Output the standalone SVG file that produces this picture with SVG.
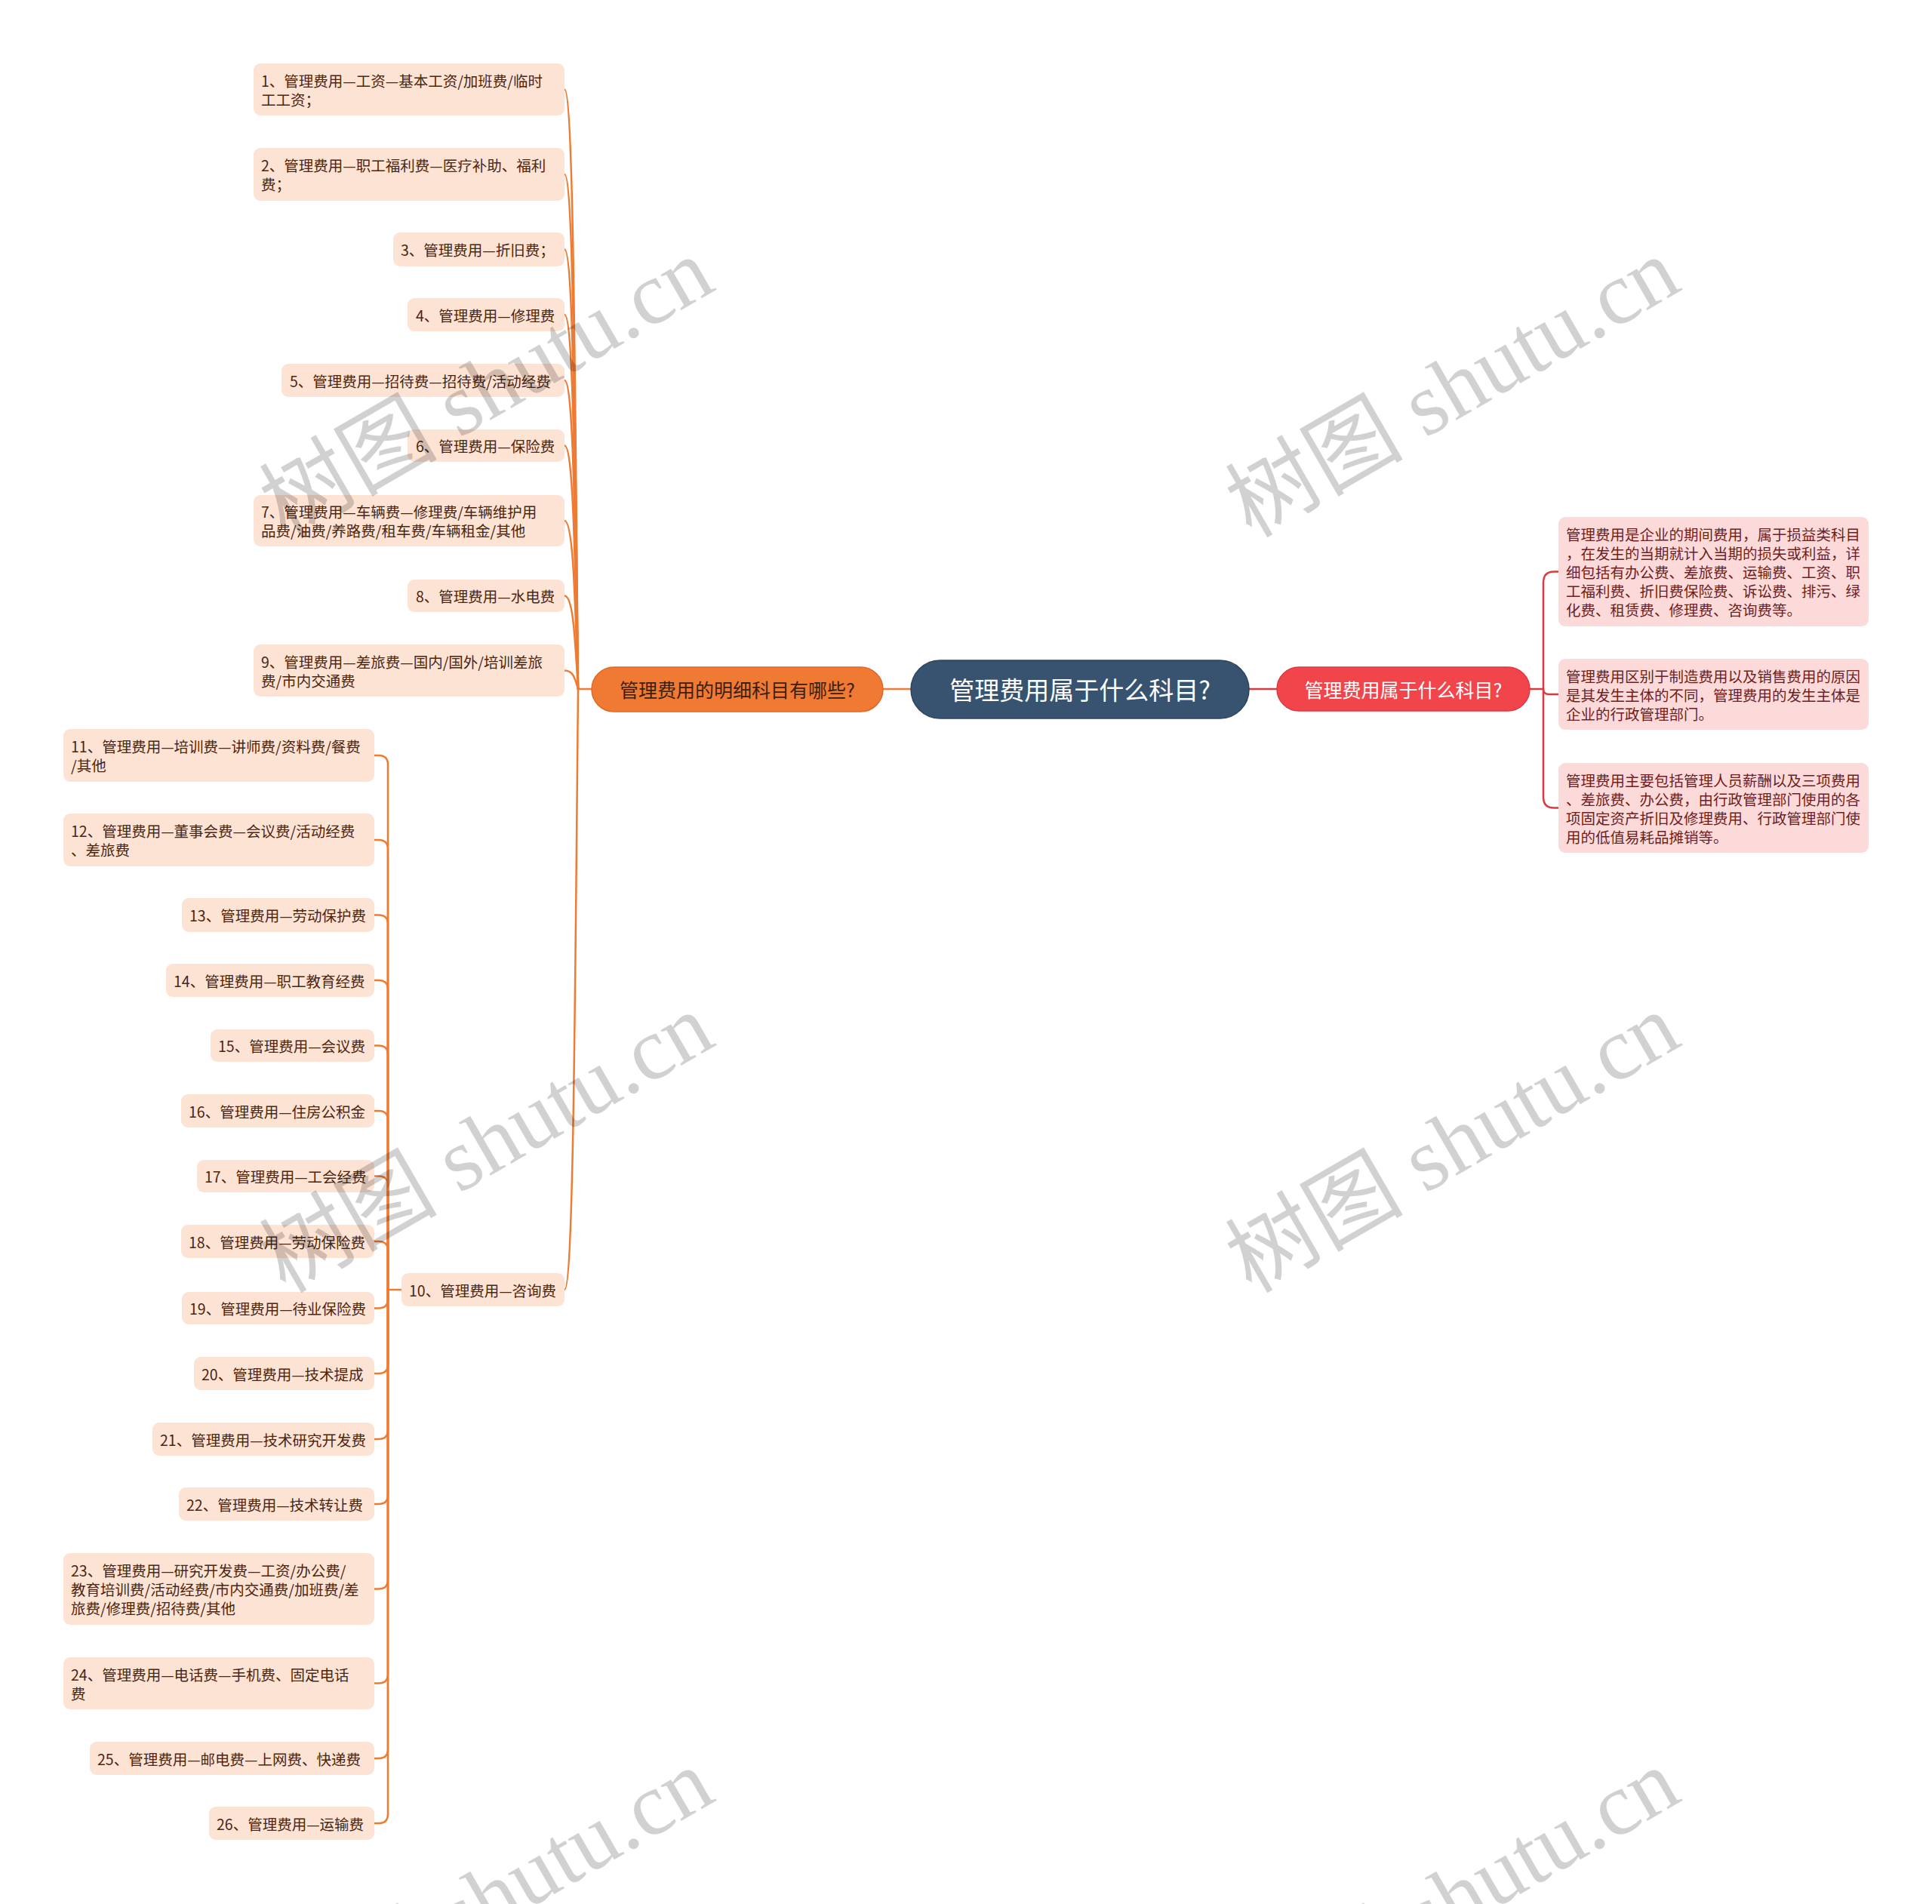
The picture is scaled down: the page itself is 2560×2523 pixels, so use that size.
<svg xmlns="http://www.w3.org/2000/svg" width="2560" height="2523" viewBox="0 0 2560 2523">
<defs>
<style>
text{font-family:"Noto Sans CJK SC","Noto Sans",sans-serif;dominant-baseline:central}
.lf rect{fill:#fde3d4}
.lf text{font-size:19.5px;fill:#4b2610}
.rf rect{fill:#fcdada}
.rf text{font-size:19.5px;fill:#6e1e1e}
.ol{fill:none;stroke:#ee7b34;stroke-width:2.5;stroke-linecap:round}
.rl{fill:none;stroke:#d93a40;stroke-width:2.5;stroke-linecap:round}
.wm{font-family:"Liberation Serif","Noto Sans CJK SC",serif;font-size:118px;fill:#000;fill-opacity:0.18;text-anchor:middle}
</style>
</defs>
<rect width="2560" height="2523" fill="#ffffff"/>
<g id="connectors">
<path class="ol" d="M1170 913H1207"/>
<path class="rl" d="M1655 913H1692"/>
<path class="ol" d="M784 913H766"/>
<path class="ol" d="M766 913C762 516 760 118.5 748 118.5"/>
<path class="ol" d="M766 913C762 572 760 231 748 231"/>
<path class="ol" d="M766 913C762 622 760 330.5 748 330.5"/>
<path class="ol" d="M766 913C762 665 760 417 748 417"/>
<path class="ol" d="M766 913C762 708 760 504 748 504"/>
<path class="ol" d="M766 913C762 752 760 590.5 748 590.5"/>
<path class="ol" d="M766 913C762 801 760 690 748 690"/>
<path class="ol" d="M766 913C762 851 760 789.5 748 789.5"/>
<path class="ol" d="M766 913C762 900 760 888.5 748 888.5"/>
<path class="ol" d="M766 913C762 1311 760 1709 748 1709"/>
<path class="ol" d="M532 1709H514"/>
<path class="ol" d="M514 1709V1013Q514 1001 502 1001H496"/>
<path class="ol" d="M514 1709V1125Q514 1113 502 1113H496"/>
<path class="ol" d="M514 1709V1224.5Q514 1212.5 502 1212.5H496"/>
<path class="ol" d="M514 1709V1311Q514 1299 502 1299H496"/>
<path class="ol" d="M514 1709V1397.5Q514 1385.5 502 1385.5H496"/>
<path class="ol" d="M514 1709V1484Q514 1472 502 1472H496"/>
<path class="ol" d="M514 1709V1570.5Q514 1558.5 502 1558.5H496"/>
<path class="ol" d="M514 1709V1657Q514 1645 502 1645H496"/>
<path class="ol" d="M514 1709V1721.5Q514 1733.5 502 1733.5H496"/>
<path class="ol" d="M514 1709V1808Q514 1820 502 1820H496"/>
<path class="ol" d="M514 1709V1895Q514 1907 502 1907H496"/>
<path class="ol" d="M514 1709V1981Q514 1993 502 1993H496"/>
<path class="ol" d="M514 1709V2093.5Q514 2105.5 502 2105.5H496"/>
<path class="ol" d="M514 1709V2218.5Q514 2230.5 502 2230.5H496"/>
<path class="ol" d="M514 1709V2318Q514 2330 502 2330H496"/>
<path class="ol" d="M514 1709V2404Q514 2416 502 2416H496"/>
<path class="rl" d="M2027 913H2045"/>
<path class="rl" d="M2045 913V772Q2045 757.5 2059 757.5H2065"/>
<path class="rl" d="M2045 913V914Q2045 920 2053 920H2065"/>
<path class="rl" d="M2045 913V1056Q2045 1070.5 2059 1070.5H2065"/>
</g>
<g id="root">
<rect x="1207" y="875" width="448" height="77" rx="38.5" fill="#37536f" stroke="#2c445c" stroke-width="1.5"/>
<text x="1431" y="913" font-size="33" fill="#ffffff" text-anchor="middle">管理费用属于什么科目?</text>
</g>
<g id="branch-left">
<rect x="784" y="884" width="386" height="59" rx="29.5" fill="#f07a33" stroke="#dd6a26" stroke-width="1.5"/>
<text x="977" y="913" font-size="25" fill="#3b1f0e" text-anchor="middle">管理费用的明细科目有哪些?</text>
</g>
<g id="branch-right">
<rect x="1692" y="884" width="335" height="58" rx="29" fill="#f2454b" stroke="#d93a40" stroke-width="1.5"/>
<text x="1859.5" y="913" font-size="25" fill="#ffffff" text-anchor="middle">管理费用属于什么科目?</text>
</g>
<g id="n1" class="lf"><rect x="336" y="84" width="412" height="69" rx="9"/><text x="346" y="106">1、管理费用—工资—基本工资/加班费/临时</text><text x="346" y="131">工工资；</text></g>
<g id="n2" class="lf"><rect x="336" y="196" width="412" height="70" rx="9"/><text x="346" y="218.5">2、管理费用—职工福利费—医疗补助、福利</text><text x="346" y="243.5">费；</text></g>
<g id="n3" class="lf"><rect x="521" y="308" width="227" height="45" rx="9"/><text x="531" y="330.5">3、管理费用—折旧费；</text></g>
<g id="n4" class="lf"><rect x="540" y="395" width="208" height="44" rx="9"/><text x="551" y="417">4、管理费用—修理费</text></g>
<g id="n5" class="lf"><rect x="373" y="482" width="375" height="44" rx="9"/><text x="384" y="504">5、管理费用—招待费—招待费/活动经费</text></g>
<g id="n6" class="lf"><rect x="540" y="569" width="208" height="43" rx="9"/><text x="551" y="590.5">6、管理费用—保险费</text></g>
<g id="n7" class="lf"><rect x="336" y="656" width="412" height="68" rx="9"/><text x="346" y="677.5">7、管理费用—车辆费—修理费/车辆维护用</text><text x="346" y="702.5">品费/油费/养路费/租车费/车辆租金/其他</text></g>
<g id="n8" class="lf"><rect x="540" y="768" width="208" height="43" rx="9"/><text x="551" y="789.5">8、管理费用—水电费</text></g>
<g id="n9" class="lf"><rect x="336" y="854" width="412" height="69" rx="9"/><text x="346" y="876">9、管理费用—差旅费—国内/国外/培训差旅</text><text x="346" y="901">费/市内交通费</text></g>
<g id="n10" class="lf"><rect x="532" y="1687" width="216" height="44" rx="9"/><text x="542" y="1709">10、管理费用—咨询费</text></g>
<g id="n11" class="lf"><rect x="84" y="966" width="412" height="70" rx="9"/><text x="94" y="988.5">11、管理费用—培训费—讲师费/资料费/餐费</text><text x="94" y="1013.5">/其他</text></g>
<g id="n12" class="lf"><rect x="84" y="1078" width="412" height="70" rx="9"/><text x="94" y="1100.5">12、管理费用—董事会费—会议费/活动经费</text><text x="94" y="1125.5">、差旅费</text></g>
<g id="n13" class="lf"><rect x="241" y="1190" width="255" height="45" rx="9"/><text x="251" y="1212.5">13、管理费用—劳动保护费</text></g>
<g id="n14" class="lf"><rect x="220" y="1277" width="276" height="44" rx="9"/><text x="230" y="1299">14、管理费用—职工教育经费</text></g>
<g id="n15" class="lf"><rect x="279" y="1364" width="217" height="43" rx="9"/><text x="289" y="1385.5">15、管理费用—会议费</text></g>
<g id="n16" class="lf"><rect x="240" y="1450" width="256" height="44" rx="9"/><text x="250" y="1472">16、管理费用—住房公积金</text></g>
<g id="n17" class="lf"><rect x="261" y="1537" width="235" height="43" rx="9"/><text x="271" y="1558.5">17、管理费用—工会经费</text></g>
<g id="n18" class="lf"><rect x="240" y="1623" width="256" height="44" rx="9"/><text x="250" y="1645">18、管理费用—劳动保险费</text></g>
<g id="n19" class="lf"><rect x="241" y="1712" width="255" height="43" rx="9"/><text x="251" y="1733.5">19、管理费用—待业保险费</text></g>
<g id="n20" class="lf"><rect x="257" y="1798" width="239" height="44" rx="9"/><text x="267" y="1820">20、管理费用—技术提成</text></g>
<g id="n21" class="lf"><rect x="202" y="1885" width="294" height="44" rx="9"/><text x="212" y="1907">21、管理费用—技术研究开发费</text></g>
<g id="n22" class="lf"><rect x="237" y="1971" width="259" height="44" rx="9"/><text x="247" y="1993">22、管理费用—技术转让费</text></g>
<g id="n23" class="lf"><rect x="84" y="2058" width="412" height="95" rx="9"/><text x="94" y="2080.5">23、管理费用—研究开发费—工资/办公费/</text><text x="94" y="2105.5">教育培训费/活动经费/市内交通费/加班费/差</text><text x="94" y="2130.5">旅费/修理费/招待费/其他</text></g>
<g id="n24" class="lf"><rect x="84" y="2196" width="412" height="69" rx="9"/><text x="94" y="2218">24、管理费用—电话费—手机费、固定电话</text><text x="94" y="2243">费</text></g>
<g id="n25" class="lf"><rect x="119" y="2308" width="377" height="44" rx="9"/><text x="129" y="2330">25、管理费用—邮电费—上网费、快递费</text></g>
<g id="n26" class="lf"><rect x="277" y="2394" width="219" height="44" rx="9"/><text x="287" y="2416">26、管理费用—运输费</text></g>
<g id="r1" class="rf"><rect x="2065" y="685" width="411" height="145" rx="9"/><text x="2075" y="707.5">管理费用是企业的期间费用，属于损益类科目</text><text x="2075" y="732.5">，在发生的当期就计入当期的损失或利益，详</text><text x="2075" y="757.5">细包括有办公费、差旅费、运输费、工资、职</text><text x="2075" y="782.5">工福利费、折旧费保险费、诉讼费、排污、绿</text><text x="2075" y="807.5">化费、租赁费、修理费、咨询费等。</text></g>
<g id="r2" class="rf"><rect x="2065" y="873" width="411" height="94" rx="9"/><text x="2075" y="895">管理费用区别于制造费用以及销售费用的原因</text><text x="2075" y="920">是其发生主体的不同，管理费用的发生主体是</text><text x="2075" y="945">企业的行政管理部门。</text></g>
<g id="r3" class="rf"><rect x="2065" y="1011" width="411" height="119" rx="9"/><text x="2075" y="1033">管理费用主要包括管理人员薪酬以及三项费用</text><text x="2075" y="1058">、差旅费、办公费，由行政管理部门使用的各</text><text x="2075" y="1083">项固定资产折旧及修理费用、行政管理部门使</text><text x="2075" y="1108">用的低值易耗品摊销等。</text></g>
<g id="watermarks">
<text class="wm" transform="translate(645 514) rotate(-30)">树图 shutu.cn</text>
<text class="wm" transform="translate(1925 514) rotate(-30)">树图 shutu.cn</text>
<text class="wm" transform="translate(645 1515) rotate(-30)">树图 shutu.cn</text>
<text class="wm" transform="translate(1925 1515) rotate(-30)">树图 shutu.cn</text>
<text class="wm" transform="translate(645 2516) rotate(-30)">树图 shutu.cn</text>
<text class="wm" transform="translate(1925 2516) rotate(-30)">树图 shutu.cn</text>
</g>
</svg>
